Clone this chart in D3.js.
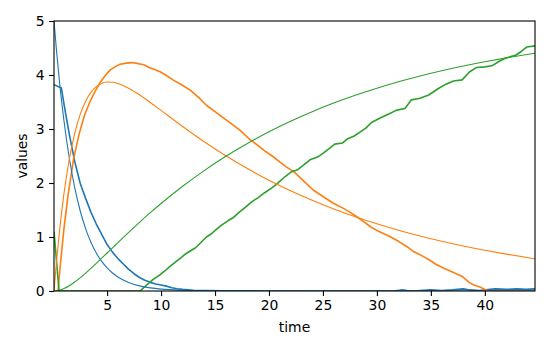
<!DOCTYPE html>
<html>
<head>
<meta charset="utf-8">
<script src="https://cdn.jsdelivr.net/npm/d3@7"></script>
<style>
  html, body { margin: 0; padding: 0; background: #fff; }
  svg { display: block; }
  text { font-family: "DejaVu Sans", sans-serif; fill: #000; }
</style>
</head>
<body>
<script>
// Smooth model curves (A -> B -> C), sampled in time
const modelTime = [0.08, 0.3, 0.6, 1, 1.5, 2, 2.5, 3, 3.5, 4, 4.5, 5, 5.5, 6, 7, 8, 9, 10, 12, 14, 16, 18, 20, 22, 24, 26, 28, 30, 32, 34, 36, 38, 40, 42, 44.65];
const modelA = [5, 4.479, 3.855, 3.157, 2.458, 1.914, 1.491, 1.161, 0.904, 0.704, 0.548, 0.427, 0.333, 0.259, 0.157, 0.095, 0.058, 0.035, 0.013, 0.005, 0.002, 0.001, 0, 0, 0, 0, 0, 0, 0, 0, 0, 0, 0, 0, 0];
const modelB = [0, 0.518, 1.129, 1.798, 2.444, 2.920, 3.266, 3.511, 3.677, 3.784, 3.844, 3.869, 3.867, 3.844, 3.756, 3.633, 3.492, 3.344, 3.047, 2.765, 2.504, 2.267, 2.052, 1.857, 1.680, 1.520, 1.376, 1.245, 1.126, 1.019, 0.922, 0.834, 0.755, 0.683, 0.598];
const modelC = [0, 0.003, 0.016, 0.045, 0.098, 0.166, 0.243, 0.328, 0.419, 0.512, 0.608, 0.704, 0.800, 0.897, 1.087, 1.272, 1.450, 1.621, 1.940, 2.230, 2.494, 2.732, 2.948, 3.143, 3.320, 3.480, 3.624, 3.755, 3.874, 3.981, 4.078, 4.166, 4.245, 4.317, 4.402];

// Simulated trajectories
const simATime = [0.08, 0.76, 1.1, 1.5, 2.0, 2.5, 3.0, 3.5, 4.0, 4.5, 5.0, 5.5, 6.0, 6.5, 7.0, 7.5, 8.0, 8.5, 9.0, 9.5, 10.0, 10.5, 11.0, 11.5, 12.0, 13.0, 14.0, 16.0, 20.0, 25.0, 30.0, 31.5, 32.3, 32.8, 33.5, 34.0, 35.0, 36.0, 37.0, 38.0, 38.6, 39.5, 40.5, 41.0, 42.0, 43.0, 43.8, 44.65];
const simA = [3.82, 3.76, 3.35, 2.9, 2.4, 2.0, 1.72, 1.46, 1.24, 1.05, 0.86, 0.72, 0.6, 0.5, 0.4, 0.32, 0.25, 0.2, 0.16, 0.13, 0.11, 0.09, 0.06, 0.04, 0.03, 0.015, 0.01, 0.005, 0, 0, 0, 0, 0.02, 0.01, 0, 0.01, 0.02, 0.01, 0.02, 0.04, 0.02, 0.01, 0.03, 0.04, 0.03, 0.04, 0.03, 0.04];

const simBTime = [0.45, 0.7, 1.0, 1.4, 1.9, 2.4, 2.9, 3.4, 3.9, 4.35, 4.8, 5.27, 5.8, 6.2, 6.8, 7.3, 7.9, 8.4, 8.9, 9.4, 9.9, 10.5, 11.1, 11.9, 12.7, 13.5, 14.2, 15.0, 15.8, 16.5, 17.3, 18.2, 19.0, 19.5, 20.3, 21.0, 21.6, 22.3, 23.2, 24.1, 25.0, 26.0, 26.9, 27.5, 28.1, 28.8, 29.4, 30.2, 31.2, 32.0, 32.8, 33.4, 34.2, 34.9, 35.5, 36.2, 37.0, 37.9, 38.6, 39.0, 39.6, 40.0, 40.4, 44.65];
const simB = [0, 0.55, 1.15, 1.8, 2.45, 2.9, 3.25, 3.5, 3.7, 3.86, 3.98, 4.09, 4.16, 4.2, 4.22, 4.23, 4.21, 4.19, 4.14, 4.1, 4.06, 3.99, 3.91, 3.82, 3.72, 3.58, 3.44, 3.32, 3.2, 3.1, 2.98, 2.81, 2.69, 2.61, 2.5, 2.39, 2.3, 2.21, 2.04, 1.87, 1.75, 1.62, 1.53, 1.46, 1.38, 1.28, 1.19, 1.1, 1.01, 0.92, 0.82, 0.73, 0.65, 0.57, 0.49, 0.42, 0.35, 0.27, 0.15, 0.11, 0.07, 0.03, 0, 0];

const simCTime = [0.08, 0.55, 8.05, 8.5, 9.0, 9.3, 9.9, 10.4, 10.8, 11.3, 11.8, 12.3, 12.7, 13.2, 13.6, 14.2, 14.6, 15.0, 15.6, 16.2, 16.7, 17.2, 17.8, 18.4, 19.0, 19.6, 20.2, 20.6, 21.0, 21.5, 22.1, 22.6, 23.2, 23.8, 24.5, 25.0, 25.6, 26.1, 26.8, 27.3, 27.9, 28.5, 29.0, 29.5, 30.25, 31.0, 31.84, 32.6, 33.2, 34.0, 34.8, 35.7, 36.4, 37.1, 37.9, 38.6, 39.25, 40.0, 40.65, 41.3, 41.9, 42.9, 43.4, 43.9, 44.65];
const simC = [1.1, 0, 0, 0.08, 0.17, 0.22, 0.3, 0.38, 0.45, 0.53, 0.61, 0.69, 0.74, 0.8, 0.88, 1.0, 1.05, 1.12, 1.22, 1.3, 1.36, 1.45, 1.55, 1.65, 1.73, 1.82, 1.9, 1.96, 2.03, 2.12, 2.21, 2.24, 2.33, 2.43, 2.48, 2.55, 2.64, 2.72, 2.74, 2.82, 2.87, 2.95, 3.02, 3.12, 3.2, 3.27, 3.35, 3.38, 3.54, 3.57, 3.63, 3.75, 3.83, 3.89, 3.91, 4.06, 4.14, 4.15, 4.17, 4.25, 4.31, 4.37, 4.44, 4.52, 4.54];

const xTicks = [5, 10, 15, 20, 25, 30, 35, 40];
const yTicks = [0, 1, 2, 3, 4, 5];

const W = 550, H = 350;
const margin = { left: 54, right: 15, top: 21, bottom: 59 };
const pw = W - margin.left - margin.right;
const ph = H - margin.top - margin.bottom;

const svg = d3.select("body").append("svg").attr("width", W).attr("height", H);

const x = d3.scaleLinear().domain([0.08, 44.65]).range([margin.left, margin.left + pw]);
const y = d3.scaleLinear().domain([0, 5]).range([margin.top + ph, margin.top]);

svg.append("defs").append("clipPath").attr("id", "plot-clip")
  .append("rect").attr("x", margin.left).attr("y", margin.top).attr("width", pw).attr("height", ph);

const plot = svg.append("g").attr("clip-path", "url(#plot-clip)");

const blue = "#1f77b4", orange = "#ff7f0e", green = "#2ca02c";

function drawLine(times, vals, color, width, curve) {
  const pts = times.map((t, i) => [t, vals[i]]);
  plot.append("path")
    .datum(pts)
    .attr("fill", "none")
    .attr("stroke", color)
    .attr("stroke-width", width)
    .attr("stroke-linejoin", "round")
    .attr("d", d3.line().x(d => x(d[0])).y(d => y(d[1])).curve(curve));
}

// simulated (thicker, jagged)
drawLine(simATime, simA, blue, 1.6, d3.curveLinear);
drawLine(simBTime, simB, orange, 1.6, d3.curveLinear);
drawLine(simCTime, simC, green, 1.6, d3.curveLinear);
// model (thinner, smooth)
drawLine(modelTime, modelA, blue, 1.1, d3.curveMonotoneX);
drawLine(modelTime, modelB, orange, 1.1, d3.curveMonotoneX);
drawLine(modelTime, modelC, green, 1.1, d3.curveMonotoneX);

// axes
const fs = "13.9px";
const xAxis = svg.append("g").attr("transform", `translate(0,${margin.top + ph})`)
  .call(d3.axisBottom(x).tickValues(xTicks).tickSize(4.9).tickPadding(4.5).tickFormat(d3.format("d")));
const yAxis = svg.append("g").attr("transform", `translate(${margin.left},0)`)
  .call(d3.axisLeft(y).tickValues(yTicks).tickSize(4.9).tickPadding(4.5).tickFormat(d3.format("d")));
[xAxis, yAxis].forEach(g => {
  g.select(".domain").remove();
  g.selectAll(".tick line").attr("stroke", "#000").attr("stroke-width", 1.1);
  g.selectAll(".tick text").attr("font-size", fs).attr("font-family", "DejaVu Sans, sans-serif").attr("fill", "#000");
});

// frame
svg.append("rect")
  .attr("x", margin.left).attr("y", margin.top)
  .attr("width", pw).attr("height", ph)
  .attr("fill", "none").attr("stroke", "#000").attr("stroke-width", 1.1);

svg.append("text")
  .attr("x", margin.left + pw / 2).attr("y", 332)
  .attr("text-anchor", "middle").attr("font-size", fs)
  .text("time");

svg.append("text")
  .attr("transform", `translate(27,${margin.top + ph / 2}) rotate(-90)`)
  .attr("text-anchor", "middle").attr("font-size", fs)
  .text("values");
</script>
</body>
</html>
